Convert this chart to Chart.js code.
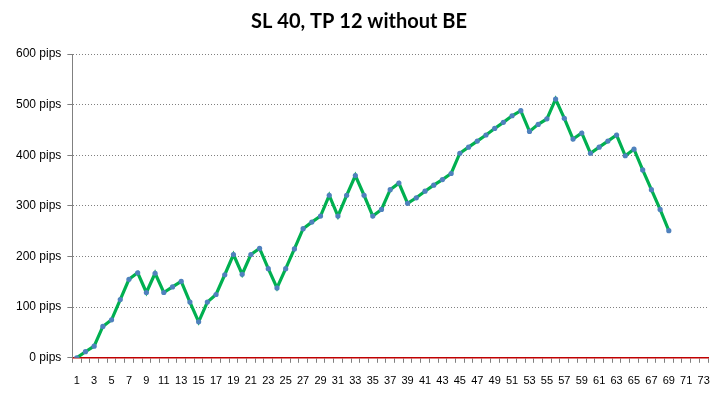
<!DOCTYPE html>
<html>
<head>
<meta charset="utf-8">
<script src="https://cdn.jsdelivr.net/npm/chart.js@4/dist/chart.umd.min.js"></script>
<style>
html,body{margin:0;padding:0;background:#fff;}
#wrap{width:725px;height:400px;position:relative;}
</style>
</head>
<body>
<div id="wrap"><canvas id="c" width="725" height="400"></canvas></div>
<script>
const titleText = "SL 40, TP 12 without BE";
const categories = [];
for (let i = 1; i <= 73; i++) categories.push(String(i));
const pips = [0,12,23,62,75,115,155,168,129,167,129,140,151,110,71,110,125,164,204,165,
  204,216,176,138,176,215,255,268,280,321,280,321,360,321,280,293,332,345,305,316,
  329,341,352,364,404,416,428,440,453,465,478,488,447,461,472,511,473,432,444,404,
  416,428,440,399,412,371,332,293,251];
const yTicks = [0,100,200,300,400,500,600];

new Chart(document.getElementById('c'), {
  type: 'line',
  data: {
    labels: categories,
    datasets: [{
      data: pips,
      borderColor: '#00B050',
      borderWidth: 3.2,
      pointRadius: 2.6,
      pointBackgroundColor: '#4F81BD',
      pointBorderColor: '#4F81BD',
      pointBorderWidth: 0,
      tension: 0
    }]
  },
  options: {
    responsive: false,
    animation: false,
    devicePixelRatio: 1,
    layout: { padding: { left: 10, right: 17, top: 0, bottom: 0 } },
    plugins: {
      legend: { display: false },
      tooltip: { enabled: false },
      title: {
        display: true,
        text: titleText,
        color: '#000',
        font: { family: 'Lato', size: 20, weight: 'bold' },
        padding: { top: 10, bottom: 20 }
      }
    },
    scales: {
      x: {
        type: 'category',
        offset: true,
        border: { display: true, color: '#C00000', width: 1.5 },
        grid: { display: true, drawOnChartArea: false, offset: true, tickLength: 5, color: '#808080' },
        ticks: {
          autoSkip: false, maxRotation: 0, minRotation: 0,
          color: '#000', font: { family: 'Liberation Sans', size: 11 }, padding: 12,
          callback: function(v, i) { return i % 2 === 0 ? categories[i] : ''; }
        }
      },
      y: {
        min: 0, max: 600,
        afterBuildTicks: function(s) { s.ticks = yTicks.map(v => ({ value: v })); },
        border: { display: true, color: '#808080', width: 1, dash: [1, 2] },
        grid: {
          color: '#808080', tickBorderDash: [], tickLength: 5,
          tickColor: '#808080', lineWidth: 1
        },
        ticks: {
          color: '#000', font: { family: 'Liberation Sans', size: 12 }, padding: 6,
          callback: function(v) { return v + ' pips'; }
        }
      }
    }
  }
});
</script>
</body>
</html>
